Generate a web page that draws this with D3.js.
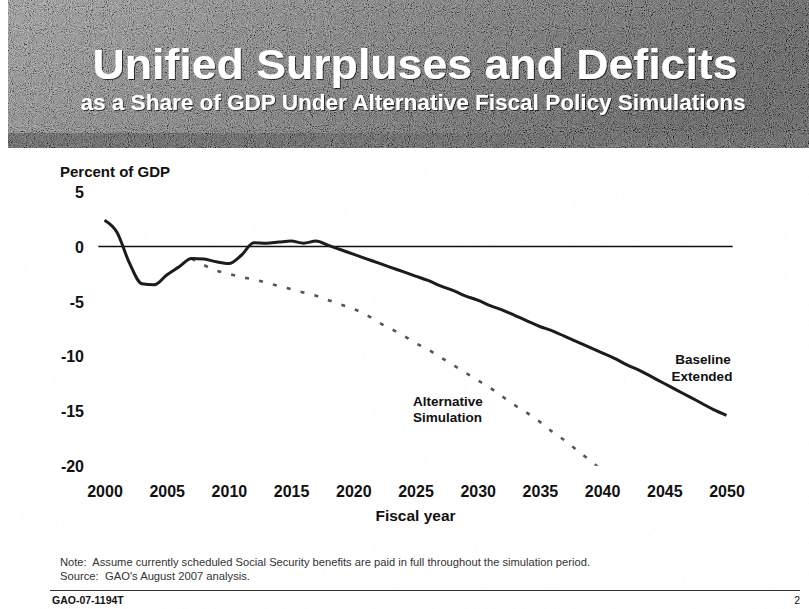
<!DOCTYPE html>
<html><head><meta charset="utf-8">
<script src="https://cdn.jsdelivr.net/npm/d3@7"></script>
<style>html,body{margin:0;padding:0;background:#fff;}svg{display:block;}</style>
</head><body>
<script>
// ---- data ----
const baselineYears = [2000,2001,2002,2003,2004,2005,2006,2007,2008,2009,2010,2011,2012,2013,2014,2015,2016,2017,2018,2019,2020,2021,2022,2023,2024,2025,2026,2027,2028,2029,2030,2031,2032,2033,2034,2035,2036,2037,2038,2039,2040,2041,2042,2043,2044,2045,2046,2047,2048,2049,2050];
const baselineValues = [2.4,1.3,-1.5,-3.4,-3.5,-2.6,-1.85,-1.1,-1.15,-1.4,-1.55,-0.8,0.35,0.3,0.4,0.5,0.3,0.5,0.1,-0.3,-0.7,-1.1,-1.5,-1.9,-2.3,-2.7,-3.1,-3.6,-4.0,-4.5,-4.9,-5.4,-5.8,-6.3,-6.8,-7.3,-7.7,-8.2,-8.7,-9.2,-9.7,-10.2,-10.8,-11.3,-11.9,-12.5,-13.1,-13.7,-14.3,-14.9,-15.4];
const altYears = [2007,2008,2009,2010,2011,2012,2013,2014,2015,2016,2017,2018,2019,2020,2021,2022,2023,2024,2025,2026,2027,2028,2029,2030,2031,2032,2033,2034,2035,2036,2037,2038,2039,2040];
const altValues = [-1.1,-1.7,-2.2,-2.5,-2.8,-3.0,-3.3,-3.6,-3.9,-4.2,-4.5,-4.9,-5.3,-5.7,-6.2,-6.9,-7.5,-8.1,-8.8,-9.4,-10.1,-10.8,-11.5,-12.2,-12.9,-13.7,-14.5,-15.2,-16.0,-16.9,-17.7,-18.6,-19.5,-20.4];
const xTickLabels = [2000,2005,2010,2015,2020,2025,2030,2035,2040,2045,2050];
const yTickLabels = [5,0,-5,-10,-15,-20];

const W = 809, H = 609;
const svg = d3.select("body").append("svg").attr("width", W).attr("height", H);
const defs = svg.append("defs");

// header gradient + noise
const g1 = defs.append("linearGradient").attr("id","hdr").attr("x1","0").attr("x2","1").attr("y1","0").attr("y2","0.3");
g1.append("stop").attr("offset","0").attr("stop-color","#8a8a8a");
g1.append("stop").attr("offset","0.45").attr("stop-color","#5a5a5a");
g1.append("stop").attr("offset","1").attr("stop-color","#232323");
const nf = defs.append("filter").attr("id","hnoise").attr("x",0).attr("y",0).attr("width",1).attr("height",1);
nf.append("feTurbulence").attr("type","fractalNoise").attr("baseFrequency","0.95").attr("numOctaves",2).attr("seed",4).attr("result","t");
nf.append("feColorMatrix").attr("type","matrix")
  .attr("values","1.8 0 0 0 -0.4  1.8 0 0 0 -0.4  1.8 0 0 0 -0.4  0 0 0 0 0.5");
const pf = defs.append("filter").attr("id","pnoise").attr("x",0).attr("y",0).attr("width",1).attr("height",1);
pf.append("feTurbulence").attr("type","fractalNoise").attr("baseFrequency","0.9").attr("numOctaves",1).attr("seed",9).attr("result","t");
pf.append("feColorMatrix").attr("type","matrix")
  .attr("values","0 0 0 0 0.55  0 0 0 0 0.55  0 0 0 0 0.55  3 0 0 0 -1.9");
const ds = defs.append("filter").attr("id","tshadow");
ds.append("feDropShadow").attr("dx",1).attr("dy",1).attr("stdDeviation",0.7).attr("flood-color","#000").attr("flood-opacity",0.7);

svg.append("rect").attr("width",W).attr("height",H).attr("fill","#fff");
svg.append("rect").attr("width",W).attr("height",H).attr("filter","url(#pnoise)").attr("opacity",0.3);

// header
svg.append("rect").attr("x",8).attr("y",0).attr("width",W-8).attr("height",148).attr("fill","url(#hdr)");
svg.append("rect").attr("x",8).attr("y",133).attr("width",W-8).attr("height",15).attr("fill","#2b2b2b");
svg.append("rect").attr("x",8).attr("y",0).attr("width",W-8).attr("height",148).attr("filter","url(#hnoise)");

const font = "Liberation Sans, Arial, sans-serif";
svg.append("text").attr("x",415).attr("y",79).attr("text-anchor","middle")
  .attr("font-family",font).attr("font-weight","bold").attr("font-size",42)
  .attr("fill","#fff").attr("filter","url(#tshadow)")
  .attr("textLength",645).attr("lengthAdjust","spacingAndGlyphs")
  .text("Unified Surpluses and Deficits");
svg.append("text").attr("x",413).attr("y",110).attr("text-anchor","middle")
  .attr("font-family",font).attr("font-weight","bold").attr("font-size",22)
  .attr("fill","#fff").attr("filter","url(#tshadow)")
  .attr("textLength",665).attr("lengthAdjust","spacingAndGlyphs")
  .text("as a Share of GDP Under Alternative Fiscal Policy Simulations");

// scales
const x = d3.scaleLinear().domain([2000, 2050]).range([104.5, 726.5]);
const y = d3.scaleLinear().domain([-20, 5]).range([465.7, 191.7]);

// y tick labels via axis
const yAxis = d3.axisLeft(y).tickValues(yTickLabels).tickSize(0).tickPadding(0).tickFormat(d => String(d));
const ya = svg.append("g").attr("transform","translate(84,0)").call(yAxis);
ya.select(".domain").remove();
ya.selectAll("text").attr("font-family",font).attr("font-weight","bold").attr("font-size",16).attr("fill","#111").attr("dy","0.36em");

// x tick labels via axis
const xAxis = d3.axisBottom(x).tickValues(xTickLabels).tickSize(0).tickPadding(0).tickFormat(d => String(d));
const xa = svg.append("g").attr("transform","translate(0,485)").call(xAxis);
xa.select(".domain").remove();
xa.selectAll("text").attr("font-family",font).attr("font-weight","bold").attr("font-size",16).attr("fill","#111").attr("dy","0.72em");

// zero line
svg.append("line").attr("x1",x(1999.5)).attr("x2",x(2050.5)).attr("y1",y(0)).attr("y2",y(0))
  .attr("stroke","#111").attr("stroke-width",1.3);

// clip
defs.append("clipPath").attr("id","plotclip").append("rect")
  .attr("x",x(1999)).attr("y",y(5)).attr("width",x(2051)-x(1999)).attr("height",y(-20)-y(5));

const line = d3.line().x(d=>x(d[0])).y(d=>y(d[1])).curve(d3.curveMonotoneX);
const altData = altYears.map((yr,i)=>[yr, altValues[i]]);
const baseData = baselineYears.map((yr,i)=>[yr, baselineValues[i]]);

svg.append("path").datum(altData).attr("d",line).attr("clip-path","url(#plotclip)")
  .attr("fill","none").attr("stroke","#555").attr("stroke-width",2.6).attr("stroke-dasharray","4 10.3");
svg.append("path").datum(baseData).attr("d",line)
  .attr("fill","none").attr("stroke","#1c1c1c").attr("stroke-width",3).attr("stroke-linejoin","round");

// axis titles
svg.append("text").attr("x",60).attr("y",177).attr("font-family",font).attr("font-weight","bold").attr("font-size",15).attr("fill","#111").text("Percent of GDP");
svg.append("text").attr("x",415.5).attr("y",521).attr("text-anchor","middle").attr("font-family",font).attr("font-weight","bold").attr("font-size",15.5).attr("fill","#111").text("Fiscal year");

// series labels
const lab = (t, xx, yy, anchor) => svg.append("text").attr("x",xx).attr("y",yy).attr("text-anchor",anchor)
  .attr("font-family",font).attr("font-weight","bold").attr("font-size",13.5).attr("fill","#111").text(t);
lab("Alternative", 413, 406, "start");
lab("Simulation", 413, 422, "start");
lab("Baseline", 703, 364, "middle");
lab("Extended", 702, 381, "middle");

// footer
svg.append("text").attr("x",60).attr("y",566).attr("font-family",font).attr("font-size",11).attr("fill","#333")
  .attr("textLength",530).attr("lengthAdjust","spacingAndGlyphs").attr("xml:space","preserve")
  .text("Note:  Assume currently scheduled Social Security benefits are paid in full throughout the simulation period.");
svg.append("text").attr("x",60).attr("y",580).attr("font-family",font).attr("font-size",11).attr("fill","#333")
  .attr("textLength",190).attr("lengthAdjust","spacingAndGlyphs").attr("xml:space","preserve")
  .text("Source:  GAO's August 2007 analysis.");
svg.append("line").attr("x1",50).attr("x2",800).attr("y1",590.5).attr("y2",590.5).attr("stroke","#333").attr("stroke-width",1.2);
svg.append("text").attr("x",52).attr("y",604).attr("font-family",font).attr("font-weight","bold").attr("font-size",10.5).attr("fill","#111").text("GAO-07-1194T");
svg.append("text").attr("x",800).attr("y",604).attr("text-anchor","end").attr("font-family",font).attr("font-size",10.5).attr("fill","#111").text("2");
</script>
</body></html>
